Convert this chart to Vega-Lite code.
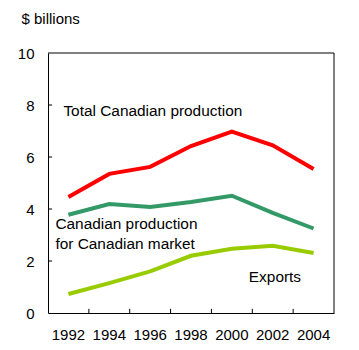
{
  "$schema": "https://vega.github.io/schema/vega-lite/v6.json",
  "autosize": {"type": "none"},
  "padding": {"left": 48, "top": 53, "right": 25, "bottom": 37},
  "width": 286,
  "height": 260,
  "background": "white",
  "config": {
    "font": "Liberation Sans",
    "view": {"stroke": null},
    "axis": {"grid": false, "domainColor": "black", "tickColor": "black", "labelColor": "black", "labelFont": "Liberation Sans", "labelFontSize": 15, "titleFont": "Liberation Sans", "titleFontSize": 15, "titleFontWeight": "normal", "titleColor": "black", "domainWidth": 1, "tickWidth": 1}
  },
  "datasets": {
    "series": [
      {"year": "1992", "value": 4.46, "series": "Total"},
      {"year": "1994", "value": 5.35, "series": "Total"},
      {"year": "1996", "value": 5.62, "series": "Total"},
      {"year": "1998", "value": 6.42, "series": "Total"},
      {"year": "2000", "value": 6.98, "series": "Total"},
      {"year": "2002", "value": 6.45, "series": "Total"},
      {"year": "2004", "value": 5.54, "series": "Total"},
      {"year": "1992", "value": 3.78, "series": "Domestic"},
      {"year": "1994", "value": 4.19, "series": "Domestic"},
      {"year": "1996", "value": 4.08, "series": "Domestic"},
      {"year": "1998", "value": 4.27, "series": "Domestic"},
      {"year": "2000", "value": 4.51, "series": "Domestic"},
      {"year": "2002", "value": 3.85, "series": "Domestic"},
      {"year": "2004", "value": 3.25, "series": "Domestic"},
      {"year": "1992", "value": 0.73, "series": "Exports"},
      {"year": "1994", "value": 1.15, "series": "Exports"},
      {"year": "1996", "value": 1.6, "series": "Exports"},
      {"year": "1998", "value": 2.2, "series": "Exports"},
      {"year": "2000", "value": 2.47, "series": "Exports"},
      {"year": "2002", "value": 2.59, "series": "Exports"},
      {"year": "2004", "value": 2.31, "series": "Exports"}
    ],
    "frameTop": [{"value": 10}],
    "frameRight": [{"year": "2004"}],
    "yticks": [{"value": 2}, {"value": 4}, {"value": 6}, {"value": 8}],
    "xticks": [{"year": "1994"}, {"year": "1996"}, {"year": "1998"}, {"year": "2000"}, {"year": "2002"}, {"year": "2004"}],
    "total": [{"year": "1992", "value": 7.56, "text": "Total Canadian production"}],
    "domestic": [
      {"year": "1992", "value": 3.24, "text": "Canadian production"},
      {"year": "1992", "value": 2.47, "text": "for Canadian market"}
    ],
    "exports": [{"year": "2000", "value": 1.19, "text": "Exports"}]
  },
  "layer": [
    {
      "data": {"name": "series"},
      "mark": {"type": "line", "strokeWidth": 4},
      "encoding": {
        "x": {
          "field": "year", "type": "ordinal",
          "scale": {"domain": ["1992","1994","1996","1998","2000","2002","2004"], "paddingInner": 0, "paddingOuter": 0},
          "axis": {"orient": "bottom", "title": null, "labelAngle": 0, "ticks": false, "labelPadding": 14, "domain": true}
        },
        "y": {
          "field": "value", "type": "quantitative",
          "scale": {"domain": [0, 10], "nice": false},
          "axis": {"orient": "left", "values": [0,2,4,6,8,10], "ticks": false, "labelPadding": 14, "title": "$ billions", "titleAngle": 0, "titleAlign": "left", "titleBaseline": "alphabetic", "titleX": -27, "titleY": -30}
        },
        "color": {
          "field": "series", "type": "nominal",
          "scale": {"domain": ["Total", "Domestic", "Exports"], "range": ["#FF0000", "#339966", "#99CC00"]},
          "legend": null
        }
      }
    },
    {
      "data": {"name": "frameTop"},
      "mark": {"type": "rule", "color": "black", "strokeWidth": 1},
      "encoding": {"y": {"field": "value", "type": "quantitative"}}
    },
    {
      "data": {"name": "frameRight"},
      "mark": {"type": "rule", "color": "black", "strokeWidth": 1},
      "encoding": {"x": {"field": "year", "type": "ordinal", "bandPosition": 1}}
    },
    {
      "data": {"name": "yticks"},
      "mark": {"type": "rule", "color": "black", "strokeWidth": 1},
      "encoding": {
        "y": {"field": "value", "type": "quantitative"},
        "x": {"datum": "1992", "type": "ordinal", "bandPosition": 0},
        "x2": {"datum": "1992", "bandPosition": 0.1}
      }
    },
    {
      "data": {"name": "xticks"},
      "mark": {"type": "rule", "color": "black", "strokeWidth": 1},
      "encoding": {
        "x": {"field": "year", "type": "ordinal", "bandPosition": 0},
        "y": {"datum": 0, "type": "quantitative"},
        "y2": {"datum": 0.16}
      }
    },
    {
      "data": {"name": "total"},
      "mark": {"type": "text", "align": "left", "baseline": "alphabetic", "fontSize": 15.4, "font": "Liberation Sans", "color": "black", "dx": -5},
      "encoding": {
        "x": {"field": "year", "type": "ordinal"},
        "y": {"field": "value", "type": "quantitative"},
        "text": {"field": "text"}
      }
    },
    {
      "data": {"name": "domestic"},
      "mark": {"type": "text", "align": "left", "baseline": "alphabetic", "fontSize": 15.4, "font": "Liberation Sans", "color": "black", "dx": -13},
      "encoding": {
        "x": {"field": "year", "type": "ordinal"},
        "y": {"field": "value", "type": "quantitative"},
        "text": {"field": "text"}
      }
    },
    {
      "data": {"name": "exports"},
      "mark": {"type": "text", "align": "left", "baseline": "alphabetic", "fontSize": 15.4, "font": "Liberation Sans", "color": "black", "dx": 17},
      "encoding": {
        "x": {"field": "year", "type": "ordinal"},
        "y": {"field": "value", "type": "quantitative"},
        "text": {"field": "text"}
      }
    }
  ]
}
